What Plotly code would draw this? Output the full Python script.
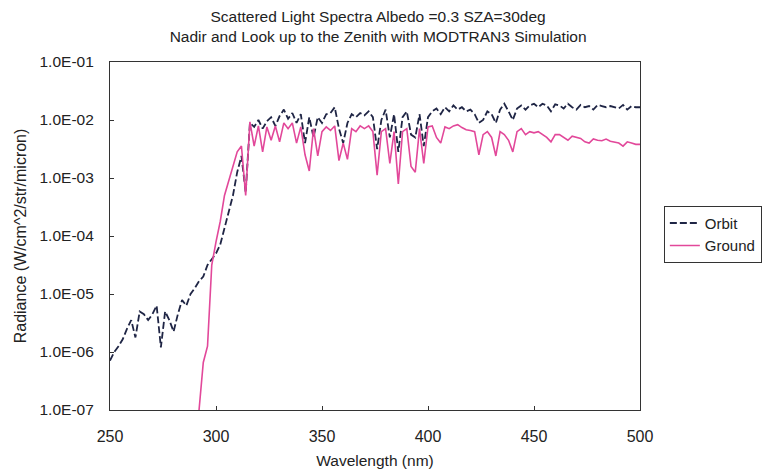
import plotly.graph_objects as go

# Wavelength grid (nm), 2 nm steps
wavelength = list(range(250, 502, 2))

# Radiance seen from orbit looking at nadir (W/cm^2/str/micron)
orbit = [
    7.1e-7, 1.0e-6, 1.26e-6, 1.66e-6, 2.51e-6, 3.55e-6, 1.78e-6, 5.0e-6, 4.47e-6, 3.55e-6,
    4.47e-6, 6.3e-6, 1.2e-6, 5.0e-6, 3.55e-6, 2.24e-6, 4.47e-6, 7.9e-6, 6.3e-6, 1.0e-5,
    1.26e-5, 1.66e-5, 2.0e-5, 3.16e-5, 3.98e-5, 5.0e-5, 7.1e-5, 1.41e-4, 2.51e-4, 5.0e-4,
    1.26e-3, 2.4e-3, 5.6e-4, 8.9e-3, 7.6e-3, 1.0e-2, 7.1e-3, 9.5e-3, 1.12e-2, 7.9e-3,
    1.17e-2, 1.51e-2, 1.05e-2, 1.32e-2, 8.9e-3, 1.26e-2, 4.0e-3, 1.12e-2, 5.0e-3, 1.12e-2,
    8.9e-3, 1.26e-2, 1.32e-2, 1.66e-2, 7.1e-3, 4.0e-3, 8.9e-3, 1.26e-2, 1.12e-2, 1.32e-2,
    1.2e-2, 1.41e-2, 1.12e-2, 3.16e-3, 1.0e-2, 1.51e-2, 5.0e-3, 1.26e-2, 2.82e-3, 1.12e-2,
    1.41e-2, 5.6e-3, 5.0e-3, 1.26e-2, 3.55e-3, 1.12e-2, 1.41e-2, 1.58e-2, 1.26e-2, 1.66e-2,
    1.41e-2, 1.78e-2, 1.51e-2, 1.66e-2, 1.41e-2, 1.51e-2, 1.26e-2, 8.9e-3, 1.0e-2, 1.41e-2,
    1.26e-2, 8.9e-3, 1.51e-2, 1.91e-2, 1.41e-2, 1.0e-2, 1.58e-2, 1.78e-2, 1.51e-2, 1.78e-2,
    1.91e-2, 1.66e-2, 1.91e-2, 1.78e-2, 1.41e-2, 1.86e-2, 1.78e-2, 1.58e-2, 1.91e-2, 1.66e-2,
    1.51e-2, 1.82e-2, 1.66e-2, 1.74e-2, 1.51e-2, 1.82e-2, 1.74e-2, 1.66e-2, 1.74e-2, 1.66e-2,
    1.58e-2, 1.82e-2, 1.51e-2, 1.74e-2, 1.66e-2, 1.66e-2,
]

# Radiance seen from the ground looking up to the zenith, from 292 nm on
ground_wavelength = list(range(292, 502, 2))
ground = [
    1.0e-7, 6.6e-7, 1.26e-6, 3.16e-5, 7.9e-5, 1.78e-4, 5.0e-4, 8.9e-4, 1.58e-3, 2.82e-3,
    3.55e-3, 5.0e-4, 9.3e-3, 3.55e-3, 7.9e-3, 2.82e-3, 7.6e-3, 4.47e-3, 7.9e-3, 4.2e-3,
    8.9e-3, 7.1e-3, 8.9e-3, 4.0e-3, 7.6e-3, 2.51e-3, 1.32e-3, 7.1e-3, 2.4e-3, 6.3e-3,
    7.6e-3, 6.6e-3, 7.9e-3, 2.0e-3, 4.0e-3, 2.1e-3, 7.1e-3, 6.3e-3, 7.9e-3, 7.1e-3,
    7.9e-3, 6.3e-3, 1.12e-3, 6.3e-3, 7.1e-3, 1.78e-3, 6.3e-3, 7.9e-4, 6.3e-3, 7.1e-3,
    1.58e-3, 1.26e-3, 7.1e-3, 1.78e-3, 7.6e-3, 7.9e-3, 5.0e-3, 4.0e-3, 7.6e-3, 7.1e-3,
    7.9e-3, 8.3e-3, 7.4e-3, 6.8e-3, 6.6e-3, 6.3e-3, 2.51e-3, 5.6e-3, 6.3e-3, 5.0e-3,
    2.4e-3, 6.3e-3, 5.6e-3, 4.47e-3, 2.82e-3, 6.3e-3, 7.1e-3, 5.6e-3, 6.3e-3, 6.0e-3,
    6.3e-3, 5.6e-3, 5.0e-3, 4.2e-3, 5.6e-3, 5.6e-3, 5.0e-3, 4.47e-3, 5.25e-3, 5.0e-3,
    4.8e-3, 4.2e-3, 4.0e-3, 4.7e-3, 4.47e-3, 4.4e-3, 4.7e-3, 4.3e-3, 4.2e-3, 4.0e-3,
    3.55e-3, 4.2e-3, 4.0e-3, 3.8e-3, 3.8e-3,
]

y_tickvals = [1e-7, 1e-6, 1e-5, 1e-4, 1e-3, 1e-2, 1e-1]
y_ticktext = ["1.0E-07", "1.0E-06", "1.0E-05", "1.0E-04", "1.0E-03", "1.0E-02", "1.0E-01"]
x_tickvals = [250, 300, 350, 400, 450, 500]

FONT = "Liberation Sans, Arial, sans-serif"
TEXT = "#222222"

fig = go.Figure()
fig.add_trace(go.Scatter(
    x=wavelength, y=orbit, name="Orbit", mode="lines",
    line=dict(color="#1f2545", width=1.8, dash="7px,3px"),
))
fig.add_trace(go.Scatter(
    x=ground_wavelength, y=ground, name="Ground", mode="lines",
    line=dict(color="#e2489a", width=1.6),
))

fig.update_layout(
    width=767, height=472,
    margin=dict(l=110, r=127, t=62, b=62, autoexpand=False),
    paper_bgcolor="white", plot_bgcolor="white",
    font=dict(family=FONT, size=15, color=TEXT),
    title=dict(
        text="Scattered Light Spectra Albedo =0.3 SZA=30deg<br>"
             "Nadir and Look up to the Zenith with MODTRAN3 Simulation",
        x=0.493, xanchor="center", y=0.953, yanchor="middle",
        font=dict(family=FONT, size=15.5, color=TEXT),
    ),
    showlegend=True,
    legend=dict(
        x=1.045, y=0.505, xanchor="left", yanchor="middle",
        bordercolor="#333333", borderwidth=1, bgcolor="white",
        font=dict(family=FONT, size=15, color=TEXT),
        tracegroupgap=0, itemwidth=30,
    ),
)

fig.update_xaxes(
    range=[250, 500], tickvals=x_tickvals,
    ticks="inside", ticklen=4, tickcolor="#333333",
    showline=True, linecolor="#333333", linewidth=1.2, mirror=True,
    showgrid=False, zeroline=False,
    ticklabelstandoff=12,
    title=dict(text="Wavelength (nm)", standoff=10, font=dict(size=15.5)),
    tickfont=dict(size=16),
)
fig.update_yaxes(
    type="log", range=[-7, -1], tickvals=y_tickvals, ticktext=y_ticktext,
    ticks="inside", ticklen=4, tickcolor="#333333",
    showline=True, linecolor="#333333", linewidth=1.2, mirror=True,
    showgrid=False, zeroline=False,
    ticklabelstandoff=12,
    title=dict(text="Radiance (W/cm^2/str/micron)", standoff=8, font=dict(size=16)),
    tickfont=dict(size=15.5),
)

fig.write_html("out.html")
